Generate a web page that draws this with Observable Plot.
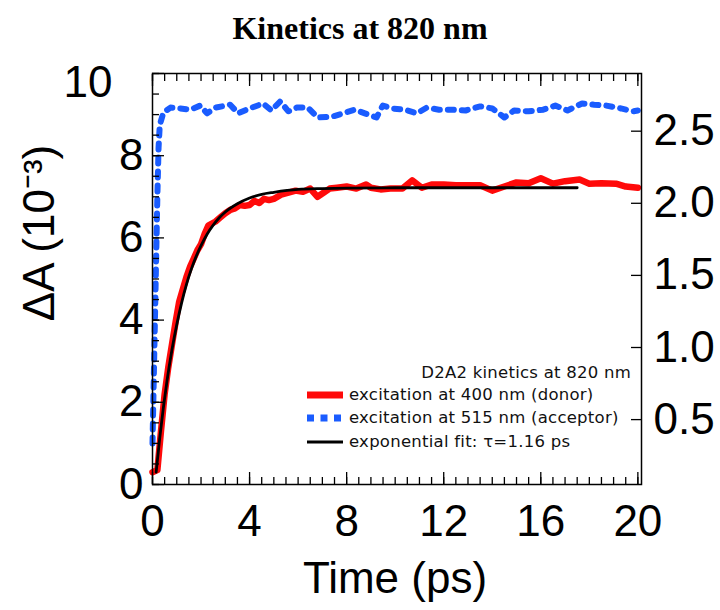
<!DOCTYPE html>
<html>
<head>
<meta charset="utf-8">
<script src="https://cdn.jsdelivr.net/npm/d3@7"></script>
<script src="https://cdn.jsdelivr.net/npm/@observablehq/plot@0.6"></script>
<style>
  html, body { margin: 0; padding: 0; background: #fff; }
  #wrap { position: relative; width: 720px; height: 610px; overflow: hidden; background: #fff; }
  #title { height: 55px; line-height: 56px; text-align: center; font-family: "Liberation Serif", "Times New Roman", serif; font-weight: bold; font-size: 32px; color: #000; }
  .leg { position: absolute; font-family: "DejaVu Sans", Verdana, sans-serif; font-size: 16.5px; letter-spacing: 0.25px; color: #111; line-height: 20px; height: 20px; white-space: nowrap; }
  .row { display: flex; align-items: center; }
  .row svg { margin-right: 6px; }
</style>
</head>
<body>
<div id="wrap">
  <div id="title">Kinetics at 820 nm</div>
  <div id="chart"></div>
</div>
<script>
// ---- data ----
const titleText = "Kinetics at 820 nm";
const xLabel = "Time (ps)";
const yLabel = "ΔA (10⁻³)";
const legendTitle = "D2A2 kinetics at 820 nm";
const seriesNames = ["excitation at 400 nm (donor)", "excitation at 515 nm (acceptor)", "exponential fit: τ=1.16 ps"];

// excitation at 400 nm (donor), red
const redTime = [0, 0.2, 0.35, 0.5, 0.65, 0.8, 0.95, 1.1, 1.25, 1.4, 1.55, 1.7, 1.85, 2.0, 2.15, 2.3, 2.45, 2.6, 2.8, 3.0, 3.2, 3.4, 3.6, 3.8, 4.0, 4.2, 4.4, 4.6, 4.8, 5.0, 5.3, 5.6, 5.9, 6.2, 6.5, 6.8, 7.0, 7.3, 7.6, 8.0, 8.4, 8.8, 9.0, 9.4, 9.8, 10.3, 10.7, 11.1, 11.5, 12.0, 12.5, 13.0, 13.5, 14.0, 14.5, 15.0, 15.5, 16.0, 16.5, 17.0, 17.6, 18.0, 18.5, 19.1, 19.5, 20.0];
const redVal  = [0.3, 0.35, 1.3, 2.2, 2.85, 3.4, 3.95, 4.45, 4.75, 5.05, 5.3, 5.5, 5.7, 5.85, 6.1, 6.3, 6.35, 6.4, 6.5, 6.6, 6.68, 6.72, 6.8, 6.78, 6.8, 6.9, 6.85, 6.95, 6.92, 6.95, 7.05, 7.1, 7.15, 7.12, 7.2, 7.0, 7.08, 7.2, 7.22, 7.25, 7.2, 7.3, 7.22, 7.18, 7.2, 7.2, 7.4, 7.22, 7.3, 7.3, 7.28, 7.28, 7.28, 7.15, 7.25, 7.35, 7.33, 7.45, 7.32, 7.38, 7.42, 7.32, 7.33, 7.32, 7.25, 7.22];

// excitation at 515 nm (acceptor), blue dotted
const blueTime = [0, 0.05, 0.1, 0.15, 0.2, 0.25, 0.3, 0.45, 0.74, 1.15, 1.56, 1.97, 2.25, 2.59, 3.2, 3.53, 4.0, 4.56, 4.9, 5.26, 5.6, 5.95, 6.4, 6.8, 7.4, 7.85, 8.34, 8.75, 9.23, 9.49, 9.86, 10.4, 10.9, 11.3, 11.8, 12.4, 12.9, 13.5, 14.0, 14.5, 14.9, 15.5, 16.1, 16.6, 17.1, 17.7, 18.2, 18.7, 19.3, 19.8, 20.0];
const blueVal  = [1.0, 2.5, 4.0, 5.5, 7.0, 8.2, 8.75, 9.05, 9.17, 9.15, 9.12, 9.22, 9.03, 9.17, 9.24, 9.03, 9.15, 9.27, 9.1, 9.32, 9.08, 9.17, 9.17, 8.93, 8.95, 9.03, 9.12, 9.03, 8.93, 9.22, 9.15, 9.12, 9.03, 9.17, 9.12, 9.12, 9.1, 9.2, 9.15, 8.93, 9.1, 9.08, 9.12, 9.22, 9.1, 9.27, 9.24, 9.22, 9.15, 9.08, 9.1];

// exponential fit, black
const fitTime = [0.15, 0.3, 0.45, 0.6, 0.8, 1.0, 1.2, 1.4, 1.6, 1.8, 2.0, 2.25, 2.5, 2.75, 3.0, 3.5, 4.0, 4.5, 5.0, 6.0, 7.0, 8.0, 10.0, 14.0, 17.5];
const fitVal  = [0.3, 1.14, 1.88, 2.53, 3.27, 3.89, 4.42, 4.87, 5.24, 5.55, 5.81, 6.09, 6.31, 6.49, 6.63, 6.83, 6.97, 7.06, 7.11, 7.18, 7.2, 7.21, 7.22, 7.22, 7.22];

// axes
const xDomain = [0, 20.15];
const yDomain = [0, 10];
const xTickLabels = [0, 4, 8, 12, 16, 20];
const yTickLabels = [0, 2, 4, 6, 8];
const yTopLabel = [10];
const yMajorTicks = [0, 2, 4, 6, 8, 10];
const rightTickLabels = [0.5, 1.0, 1.5, 2.0, 2.5];
const rightDomain = [0.05, 2.90];

const colors = {red: "#ff0a0a", blue: "#1a5cff", black: "#000000"};

// ---- tables built from arrays ----
const red = redTime.map((t, i) => ({t, v: redVal[i]}));
const blue = blueTime.map((t, i) => ({t, v: blueVal[i]}));
const fit = fitTime.map((t, i) => ({t, v: fitVal[i]}));
const xMinor = d3.range(0, 20.001, 0.5);
const yMinor = d3.range(0, 10.001, 0.5);
// right axis values mapped onto the left scale
const toLeft = r => (r - rightDomain[0]) / (rightDomain[1] - rightDomain[0]) * (yDomain[1] - yDomain[0]);
const toRight = v => v / (yDomain[1] - yDomain[0]) * (rightDomain[1] - rightDomain[0]) + rightDomain[0];
const rightPos = rightTickLabels.map(toLeft);

const big = 44;
const chart = Plot.plot({
  width: 720,
  height: 555,
  marginTop: 18,
  marginBottom: 126,
  marginLeft: 152,
  marginRight: 79,
  x: {domain: xDomain},
  y: {domain: yDomain},
  style: {fontFamily: "'Liberation Sans', Arial, sans-serif", background: "#fff", color: "#000", overflow: "visible"},
  marks: [
    // data
    Plot.line(red, {x: "t", y: "v", stroke: colors.red, strokeWidth: 6.5, strokeLinejoin: "round", strokeLinecap: "round"}),
    Plot.line(fit, {x: "t", y: "v", stroke: colors.black, strokeWidth: 2.8, curve: "monotone-x"}),
    Plot.line(blue, {x: "t", y: "v", stroke: colors.blue, strokeWidth: 6, strokeDasharray: "6,8"}),
    // frame
    Plot.frame({stroke: "#000", strokeWidth: 1.5}),
    // bottom / top ticks (inward)
    Plot.axisX(xMinor, {anchor: "bottom", tickSize: -7, fill: "none", label: null, strokeWidth: 1.3}),
    Plot.axisX(xTickLabels, {anchor: "bottom", tickSize: -12, fill: "none", label: null, strokeWidth: 1.3}),
    Plot.axisX(xMinor, {anchor: "top", tickSize: -7, fill: "none", label: null, strokeWidth: 1.3}),
    Plot.axisX(xTickLabels, {anchor: "top", tickSize: -12, fill: "none", label: null, strokeWidth: 1.3}),
    Plot.axisX(xTickLabels, {anchor: "bottom", tickSize: 0, tickPadding: 20, fontSize: big, label: null}),
    // left ticks and labels
    Plot.axisY(yMinor, {anchor: "left", tickSize: -7, fill: "none", label: null, strokeWidth: 1.3}),
    Plot.axisY(yMajorTicks, {anchor: "left", tickSize: -12, fill: "none", label: null, strokeWidth: 1.3}),
    Plot.axisY(yTickLabels, {anchor: "left", tickSize: 0, tickPadding: 9, fontSize: big, label: null}),
    Plot.text(yTopLabel, {y: d => d, text: d => String(d), frameAnchor: "left", textAnchor: "end", dx: -40, dy: 9, fontSize: big}),
    // right ticks and labels
    Plot.axisY(rightPos, {anchor: "right", tickSize: -11, fill: "none", label: null, strokeWidth: 1.3}),
    Plot.axisY(rightPos, {anchor: "right", tickSize: 0, tickPadding: 12, fontSize: big, label: null,
      tickFormat: d => toRight(d).toFixed(1)}),
    // axis titles
    Plot.text([yLabel], {frameAnchor: "left", textAnchor: "middle", lineAnchor: "middle", rotate: -90, dx: -113, dy: -46, fontSize: big}),
    Plot.text([xLabel], {frameAnchor: "bottom", textAnchor: "middle", lineAnchor: "middle", dy: 94, dx: -2, fontSize: big})
  ]
});
document.getElementById("chart").appendChild(chart);

// ---- legend (inside the plot frame) ----
const wrap = document.getElementById("wrap");
const legTitle = document.createElement("div");
legTitle.className = "leg";
legTitle.style.right = (720 - 631) + "px";
legTitle.style.top = "363px";
legTitle.textContent = legendTitle;
wrap.appendChild(legTitle);

const legendRows = [
  {name: seriesNames[0], color: colors.red, width: 7, dash: null, top: 385},
  {name: seriesNames[1], color: colors.blue, width: 7, dash: "7 6.5", top: 408},
  {name: seriesNames[2], color: colors.black, width: 3, dash: null, top: 432}
];
for (const r of legendRows) {
  const row = document.createElement("div");
  row.className = "leg row";
  row.style.left = "307px";
  row.style.top = r.top + "px";
  const ns = "http://www.w3.org/2000/svg";
  const s = document.createElementNS(ns, "svg");
  s.setAttribute("width", "36");
  s.setAttribute("height", "12");
  const ln = document.createElementNS(ns, "line");
  ln.setAttribute("x1", "0"); ln.setAttribute("x2", "36");
  ln.setAttribute("y1", "6"); ln.setAttribute("y2", "6");
  ln.setAttribute("stroke", r.color);
  ln.setAttribute("stroke-width", r.width);
  if (r.dash) ln.setAttribute("stroke-dasharray", r.dash);
  s.appendChild(ln);
  row.appendChild(s);
  const sp = document.createElement("span");
  sp.textContent = r.name;
  row.appendChild(sp);
  wrap.appendChild(row);
}
</script>
</body>
</html>
